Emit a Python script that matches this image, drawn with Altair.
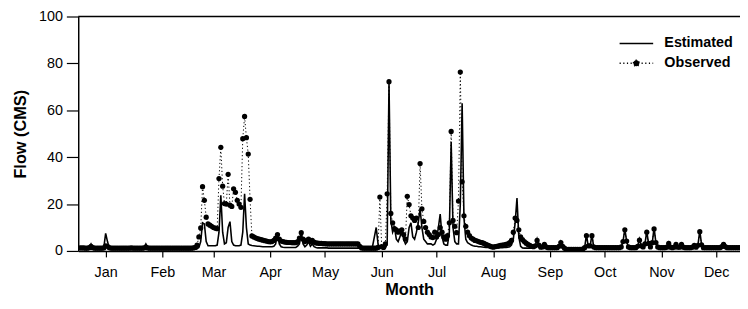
import altair as alt
import pandas as pd

FONT = "Liberation Sans"

MONTHS = ["Jan", "Feb", "Mar", "Apr", "May", "Jun", "Jul", "Aug", "Sep", "Oct", "Nov", "Dec"]
TICK_DAYS = [15, 46, 74, 105, 135, 166, 196, 227, 258, 288, 319, 349]
Y_TICKS = [0, 20, 40, 60, 80, 100]
SERIES = ["Estimated", "Observed"]

# daily flow (CMS), estimated and observed, month by month
est_jan = [1.0,1.0,1.0,1.0,1.0,1.5,3.0,1.5,1.0,1.0, 1.0,1.0,1.0,1.5,7.5,4.0,1.2,1.0,1.0,1.0,
           1.0,1.0,1.0,1.0,1.0,1.0,1.0,1.0,1.5,1.0, 1.0]
obs_jan = [1.3,1.3,1.3,1.2,1.2,1.4,2.0,1.4,1.2,1.2, 1.2,1.2,1.2,1.3,2.2,2.0,1.4,1.2,1.2,1.2,
           1.2,1.2,1.2,1.2,1.2,1.2,1.2,1.2,1.3,1.2, 1.2]
est_feb = [1.0,1.0,1.0,1.0,1.5,3.0,1.5,1.0,1.0,1.0, 1.0,1.0,1.0,1.0,1.0,1.0,1.0,1.0,1.0,1.0,
           1.0,1.0,1.0,1.0,1.0,1.0,1.0,1.0]
obs_feb = [1.2,1.2,1.2,1.2,1.3,1.6,1.3,1.2,1.2,1.2, 1.2,1.2,1.2,1.2,1.2,1.2,1.2,1.2,1.2,1.2,
           1.2,1.2,1.2,1.2,1.2,1.2,1.2,1.2]
est_mar = [1.0,1.0,1.0,1.0,1.0,1.0,1.5,4.0,12.0,11.5, 4.0,2.2,2.2,2.2,2.2,2.2,2.5,8.0,23.7,8.0,
           3.0,3.5,10.0,12.5,4.0,2.5,2.2,2.2,2.2,2.5, 8.0]
obs_mar = [1.2,1.2,1.2,1.3,1.5,2.5,6.0,9.8,27.4,21.6, 14.4,11.5,11.0,10.5,10.0,9.7,9.5,30.9,44.2,27.6,
           20.2,20.0,32.7,19.5,19.0,26.5,25.0,21.6,20.0,18.6, 47.9]
est_apr = [24.4,10.0,3.0,2.5,2.3,2.2,2.1,2.0,2.0,1.9, 1.8,1.8,1.8,1.8,1.8,1.8,2.0,3.0,7.5,3.0,
           1.8,1.6,1.5,1.5,1.5,1.5,1.5,1.5,1.5,2.0]
obs_apr = [57.4,48.3,41.3,22.0,6.4,6.0,5.6,5.3,5.0,4.8, 4.6,4.4,4.2,4.0,3.9,4.0,4.5,5.5,7.0,5.0,
           4.2,4.0,3.8,3.7,3.6,3.6,3.5,3.5,3.5,4.0]
est_may = [3.0,8.0,3.0,1.8,2.5,4.0,2.0,3.0,1.8,1.5, 1.3,1.3,1.3,1.3,1.3,1.3,1.2,1.2,1.2,1.2,
           1.2,1.2,1.2,1.2,1.2,1.2,1.2,1.2,1.2,1.2, 1.2]
obs_may = [5.5,7.8,5.0,4.0,4.5,5.0,4.0,4.5,3.8,3.4, 3.3,3.2,3.2,3.1,3.1,3.0,3.0,3.0,3.0,3.0,
           3.0,3.0,3.0,3.0,3.0,3.0,3.0,3.0,3.0,3.0, 3.0]
est_jun = [1.2,1.2,1.2,1.2,1.2,1.2,1.2,1.2,1.2,2.0, 6.0,10.0,3.0,1.2,1.2,1.2,1.2,3.0,72.0,13.0,
           8.0,10.0,5.0,4.0,6.0,9.0,5.0,3.0,4.0,10.0]
obs_jun = [3.0,3.0,2.0,1.3,1.2,1.2,1.2,1.2,1.2,1.2, 1.2,1.2,1.5,23.0,1.8,1.5,3.0,24.4,72.2,16.0,
           12.0,9.5,9.0,8.0,8.5,9.0,7.0,5.0,23.3,19.8]
est_jul = [12.0,6.0,5.0,8.0,12.0,18.0,10.0,5.0,4.0,3.0, 3.0,3.0,2.5,3.0,5.0,10.0,15.7,6.0,3.0,2.5,
           2.5,8.0,46.5,10.0,4.0,3.0,3.0,20.0,63.0,14.0, 5.0]
obs_jul = [15.0,14.0,13.0,14.0,10.0,37.3,18.0,12.6,10.0,8.0, 7.0,6.0,5.7,8.0,6.0,7.0,10.0,8.0,6.0,5.0,
           6.5,12.0,51.0,13.0,10.5,7.8,21.3,76.3,29.5,15.0, 10.5]
est_aug = [3.5,3.0,2.5,2.2,2.0,2.0,1.8,1.8,1.7,1.6, 1.5,1.5,1.4,1.3,1.2,1.2,1.3,1.3,1.4,1.4,
           1.5,1.5,1.6,1.8,2.5,5.0,12.0,22.6,6.0,2.0, 1.3]
obs_aug = [8.0,6.5,5.5,5.0,4.5,4.3,4.0,3.7,3.5,3.2, 2.8,2.5,2.2,1.8,1.6,1.8,2.0,2.2,2.4,2.5,
           2.6,2.8,3.0,3.5,4.5,8.0,14.0,13.0,9.0,6.0, 4.8]
est_sep = [1.2,1.2,1.2,1.2,1.2,1.3,2.0,5.0,2.0,1.3, 1.5,3.0,1.5,1.2,1.2,1.2,1.2,1.2,1.2,1.8,
           4.0,1.8,1.0,0.5,0.5,0.5,0.5,0.5,0.5,0.5]
obs_sep = [4.0,3.3,2.8,2.4,2.0,1.8,2.2,4.5,2.5,1.6, 1.7,2.8,1.7,1.4,1.4,1.4,1.4,1.4,1.4,2.0,
           3.6,2.0,1.2,0.7,0.7,0.7,0.7,0.7,0.7,0.7]
est_oct = [0.5,0.5,0.6,1.2,7.0,2.0,2.0,7.0,1.5,1.2, 1.2,1.2,1.2,1.2,1.2,1.2,1.2,1.2,1.2,1.2,
           1.2,1.2,1.2,1.5,4.0,9.4,4.0,1.5,1.2,1.2, 1.2]
obs_oct = [0.7,0.7,0.8,1.4,6.5,2.2,2.2,6.5,1.7,1.4, 1.4,1.4,1.4,1.4,1.4,1.4,1.4,1.4,1.4,1.4,
           1.4,1.4,1.4,1.7,4.0,9.0,4.2,1.7,1.4,1.4, 1.4]
est_nov = [1.2,2.0,5.0,2.0,1.5,3.0,8.4,3.0,1.5,3.5, 9.8,3.5,1.5,1.2,1.2,1.2,1.2,1.5,3.5,1.5,
           1.2,1.5,3.0,1.5,1.5,3.0,1.5,1.2,1.2,1.2]
obs_nov = [1.4,2.0,4.6,2.2,1.7,3.0,8.0,3.2,1.7,3.5, 9.4,3.6,1.7,1.4,1.4,1.4,1.4,1.6,3.2,1.6,
           1.4,1.6,2.8,1.6,1.6,2.8,1.6,1.4,1.4,1.4]
est_dec = [1.2,1.5,2.5,1.5,2.5,8.7,2.5,1.2,1.2,1.2, 1.2,1.2,1.2,1.2,1.2,1.2,1.2,1.8,3.0,1.8,
           1.2,1.2,1.2,1.2,1.2,1.2,1.2,1.2,1.2,1.2, 1.2]
obs_dec = [1.4,1.6,2.4,1.6,2.4,8.2,2.6,1.4,1.4,1.4, 1.4,1.4,1.4,1.4,1.4,1.4,1.4,1.8,2.8,1.8,
           1.4,1.4,1.4,1.4,1.4,1.4,1.4,1.4,1.4,1.4, 1.4]

est = (est_jan + est_feb + est_mar + est_apr + est_may + est_jun +
       est_jul + est_aug + est_sep + est_oct + est_nov + est_dec)
obs = (obs_jan + obs_feb + obs_mar + obs_apr + obs_may + obs_jun +
       obs_jul + obs_aug + obs_sep + obs_oct + obs_nov + obs_dec)
days = list(range(1, len(est) + 1))

df_est = pd.DataFrame({"day": days, "flow": est, "series": "Estimated"})
df_obs = pd.DataFrame({"day": days, "flow": obs, "series": "Observed"})
df_all = pd.concat([df_est, df_obs], ignore_index=True)
df_top = pd.DataFrame({"flow": [100]})

label_expr = f"{MONTHS}[indexof({TICK_DAYS}, datum.value)]"

X = alt.X("day:Q", scale=alt.Scale(domain=[0, 362], nice=False, zero=False),
          axis=alt.Axis(values=TICK_DAYS, labelExpr=label_expr, title="Month",
                        tickSize=6, labelPadding=9, titlePadding=3, labelAngle=0))
Y = alt.Y("flow:Q", scale=alt.Scale(domain=[0, 100], nice=False),
          axis=alt.Axis(values=Y_TICKS, title="Flow (CMS)", tickSize=12,
                        labelPadding=4, titlePadding=10))

top = alt.Chart(df_top).mark_rule(color="black", strokeWidth=1.5).encode(y=Y)

obs_line = alt.Chart(df_obs).mark_line(color="black", strokeWidth=1,
                                       strokeDash=[1.2, 2.5], clip=True).encode(x=X, y=Y)
obs_pts = alt.Chart(df_obs).mark_circle(color="black", size=28, opacity=1,
                                        clip=True).encode(x=X, y=Y)
est_line = alt.Chart(df_est).mark_line(color="black", strokeWidth=1.6,
                                       clip=True).encode(x=X, y=Y)

leg = alt.Legend(title=None, orient="none", legendX=557, legendY=20,
                 labelFont=FONT, labelFontSize=14.5, labelFontWeight="bold",
                 labelColor="black", symbolSize=72, symbolStrokeWidth=1.5,
                 labelOffset=21, rowPadding=5, padding=0)
OBS_PATH = "M-4,0H4M-0.7,0A0.7,0.7,0,1,1,0.7,0A0.7,0.7,0,1,1,-0.7,0Z"
legend_layer = alt.Chart(df_all).transform_filter("false").mark_point(
    filled=True, color="black", stroke="black", strokeWidth=1.5, opacity=1
).encode(
    x=X, y=Y,
    shape=alt.Shape("series:N", scale=alt.Scale(domain=SERIES, range=["M-4,0H4", OBS_PATH]),
                    legend=leg),
    strokeDash=alt.StrokeDash("series:N",
                              scale=alt.Scale(domain=SERIES, range=[[1, 0], [1.2, 2.5]]),
                              legend=leg),
)

chart = alt.layer(top, obs_line, obs_pts, est_line, legend_layer).properties(
    width=669, height=237, autosize="none",
    padding={"left": 71, "top": 7, "right": 0, "bottom": 49},
).configure_view(stroke=None).configure_axis(
    domainColor="black", domainWidth=1.5, tickColor="black", tickWidth=1.2,
    labelColor="black", titleColor="black", labelFont=FONT, titleFont=FONT,
    labelFontSize=14.5, titleFontSize=16.5, titleFontWeight="bold", grid=False,
)

chart.save("out.html", embed_options={"renderer": "svg", "actions": False})
